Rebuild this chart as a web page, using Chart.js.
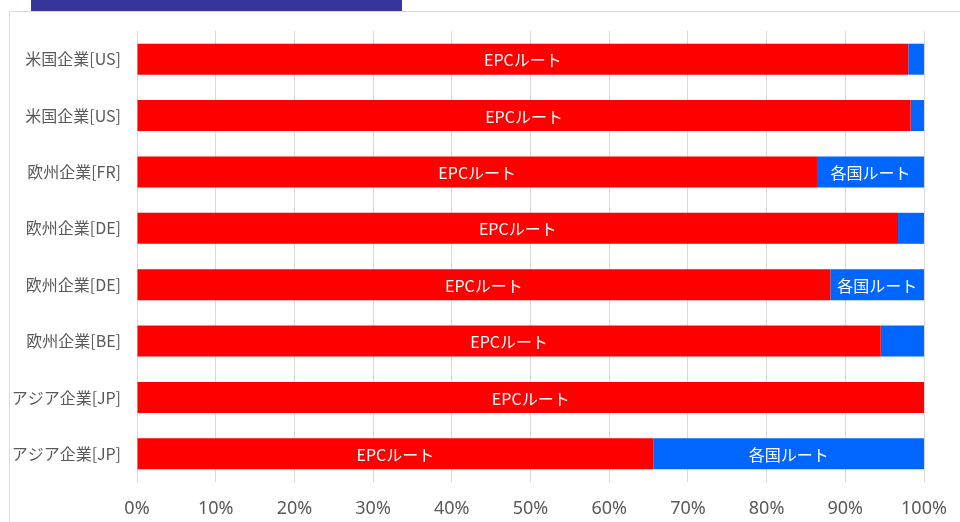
<!DOCTYPE html>
<html>
<head>
<meta charset="utf-8">
<script src="https://cdn.jsdelivr.net/npm/chart.js@4/dist/chart.umd.min.js"></script>
<style>
  html, body { margin: 0; padding: 0; background: #fff; }
  #wrap { position: relative; width: 960px; height: 522px; overflow: hidden; }
  #frame { position: absolute; left: 9px; top: 11px; width: 980px; height: 540px; border: 1px solid #D9D9D9; box-sizing: border-box; }
  #band { position: absolute; left: 31px; top: 0; width: 371px; height: 11px; background: #35359A; }
  #c { position: absolute; left: 0; top: 0; }
</style>
</head>
<body>
<div id="wrap">
  <div id="frame"></div>
  <div id="band"></div>
  <canvas id="c" width="960" height="522"></canvas>
</div>
<script>
const categories = ["米国企業[US]", "米国企業[US]", "欧州企業[FR]", "欧州企業[DE]", "欧州企業[DE]", "欧州企業[BE]", "アジア企業[JP]", "アジア企業[JP]"];
const epcRoute = [98.0, 98.3, 86.4, 96.7, 88.1, 94.5, 100.0, 65.6];
const nationalRoute = [2.0, 1.7, 13.6, 3.3, 11.9, 5.5, 0.0, 34.4];
const seriesNames = ["EPCルート", "各国ルート"];
const xTicks = [0, 10, 20, 30, 40, 50, 60, 70, 80, 90, 100];

const labelFont = '16px "Noto Sans CJK JP", "Noto Sans", sans-serif';

const segLabels = {
  id: 'segLabels',
  afterDatasetsDraw(chart) {
    const ctx = chart.ctx;
    ctx.save();
    ctx.font = labelFont;
    ctx.fillStyle = '#FFFFFF';
    ctx.textAlign = 'center';
    ctx.textBaseline = 'middle';
    chart.data.datasets.forEach((ds, di) => {
      const meta = chart.getDatasetMeta(di);
      meta.data.forEach((el, i) => {
        const v = ds.data[i];
        if (!v) return;
        const w = Math.abs(el.x - el.base);
        const tw = ctx.measureText(ds.label).width;
        if (w < tw + 10) return;
        ctx.fillText(ds.label, (el.x + el.base) / 2, el.y + 1);
      });
    });
    ctx.restore();
  }
};

new Chart(document.getElementById('c'), {
  type: 'bar',
  data: {
    labels: categories,
    datasets: [
      { label: seriesNames[0], data: epcRoute, backgroundColor: '#FF0000', borderWidth: 0, barPercentage: 0.55, categoryPercentage: 1 },
      { label: seriesNames[1], data: nationalRoute, backgroundColor: '#0066FF', borderWidth: 0, barPercentage: 0.55, categoryPercentage: 1 }
    ]
  },
  options: {
    indexAxis: 'y',
    responsive: false,
    animation: false,
    layout: { padding: { top: 31, right: 36, bottom: 0, left: 12 } },
    plugins: { legend: { display: false }, tooltip: { enabled: false } },
    scales: {
      x: {
        stacked: true,
        min: 0, max: 100,
        afterBuildTicks(scale) { scale.ticks = xTicks.map(v => ({ value: v })); },
        grid: { color: '#D9D9D9', drawTicks: false, lineWidth: 1 },
        border: { display: false },
        ticks: {
          color: '#595959',
          padding: 16,
          font: { size: 18, family: '"Noto Sans", "DejaVu Sans", sans-serif' },
          callback: v => v + '%'
        },
        afterFit(scale) { scale.height = 40; scale.paddingRight = 0; scale.paddingLeft = 0; }
      },
      y: {
        stacked: true,
        grid: { display: false, drawTicks: false },
        border: { display: false },
        ticks: {
          color: '#595959',
          padding: 16,
          font: { size: 16, family: '"Noto Sans CJK JP", "Noto Sans", sans-serif' }
        },
        afterFit(scale) { scale.width = 125; }
      }
    }
  },
  plugins: [segLabels]
});
</script>
</body>
</html>
